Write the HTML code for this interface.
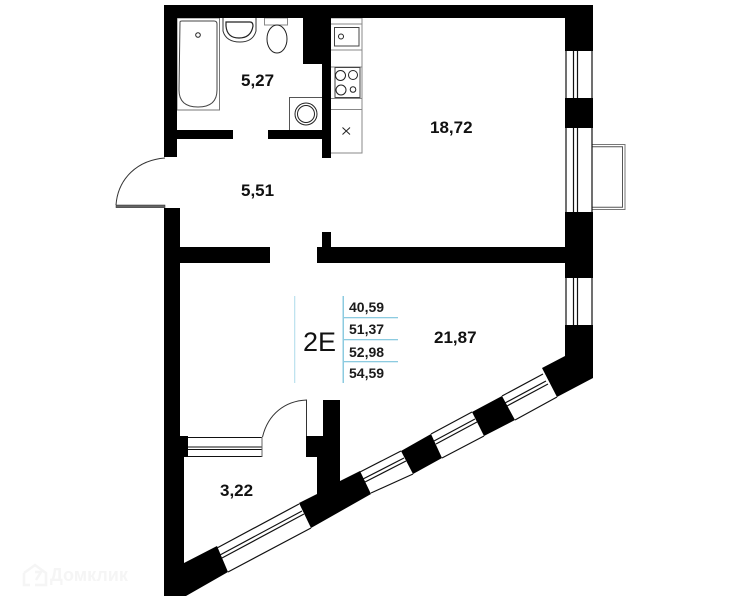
<!DOCTYPE html>
<html><head><meta charset="utf-8"><style>
html,body{margin:0;padding:0;background:#fff}
svg{display:block}
text{font-family:"Liberation Sans",sans-serif}
.a{font-size:17px;font-weight:bold;fill:#111}
.t{font-size:14px;font-weight:bold;fill:#1a1a1a}
</style></head><body>
<svg width="740" height="600" viewBox="0 0 740 600" xmlns="http://www.w3.org/2000/svg">
<rect width="740" height="600" fill="#fff"/>
<!-- watermark -->
<g fill="none" stroke="#f5f5f5" stroke-width="2.5"><path d="M24 573 L35 565 L46 573 V585 H35 M24 573 V585 H30 M35 572 H41 L36 580"/></g>
<text x="50" y="581" font-size="18" font-weight="bold" fill="#f5f5f5">Домклик</text>
<!-- fixtures -->
<g fill="none" stroke="#777" stroke-width="1">
<rect x="177" y="18" width="42.500" height="92" fill="#fff"/>
<path d="M180 22 Q180 21 182 21 H214 Q217 21 217 24 V90 Q217 107 198 107 Q179 107 179 90 Z" stroke="#444"/>
<circle cx="198" cy="35" r="2.300" stroke="#222"/>
<path d="M223 18 V31 Q226 42 240 42 Q253 42 256 31 V18" stroke="#333"/>
<path d="M226 22 H250 Q253 22 253 26 Q251 38 239 38 Q227 38 226 26 Z" stroke="#222" stroke-width="1.200"/>
<rect x="264.500" y="18" width="23" height="7" stroke="#888"/>
<ellipse cx="277" cy="39" rx="10" ry="14" stroke="#222" fill="#fff"/>
<path d="M330 18 H362 V153 H330 M330 24 H362 M330 50 H362 M330 67 H362 M330 98.500 H362 M330 109.500 H362" stroke="#888"/>
<rect x="334.500" y="27.500" width="24.500" height="18.500" stroke="#444"/>
<circle cx="341" cy="36.500" r="2.500" stroke="#222"/>
<rect x="335" y="67.500" width="25" height="30" stroke="#444"/>
<circle cx="340.500" cy="75.500" r="5" stroke="#222"/><circle cx="353" cy="75" r="4.500" stroke="#222"/>
<circle cx="341" cy="90" r="5" stroke="#222"/><circle cx="353" cy="89.500" r="2.800" stroke="#222"/>
<path d="M342.500 127.500 L350 134.500 M350 127.500 L342.500 134.500" stroke="#222"/>
<rect x="289.500" y="97.500" width="33" height="33" stroke="#555"/>
<circle cx="306" cy="114" r="11" stroke="#222"/><circle cx="306" cy="114" r="8.500" stroke="#222"/>
</g>
<!-- balcony -->
<path d="M592 144.500 H625 V209.500 H592" fill="none" stroke="#777" stroke-width="1"/>
<path d="M592 146.800 H622.500 V207.200 H592" fill="none" stroke="#555" stroke-width="1"/>
<!-- walls -->
<g fill="#000">
<path d="M164 5 H593 V51 H565 V18 H331 V158 H322 V64 H303 V18 H177 V157 H164 Z"/>
<rect x="177" y="130" width="56" height="9"/>
<rect x="268" y="130" width="55" height="9"/>
<rect x="565" y="98" width="28" height="30"/>
<rect x="565" y="212" width="28" height="66"/>
<path d="M164 208 H180 V247 H270 V263 H180 V436 H188 V457 H184 V563 L217 546 L228 572 L186 596 H164 Z"/>
<path d="M322 232 H331 V247 H565 V263 H317 V247 H322 Z"/>
<path d="M306 436 H323 V400 H340 V481 L360 471 L371 494 L311 528 L299 503 L317 494 V457 H306 Z"/>
<path d="M401 451 L431 434 L442 458 L413 474 Z"/>
<path d="M472 412 L502 396 L515 420 L484 436 Z"/>
<path d="M542 368 L565 356 V325 H593 V378 L557 397 Z"/>
</g>
<!-- right windows -->
<g stroke="#111" stroke-width="1.200" fill="none">
<path d="M566 51 V98 M592 51 V98 M573.500 51 V98 M577.500 51 V98"/>
<path d="M566 128 V212 M592 128 V212 M573.500 128 V212 M577.500 128 V212"/>
<path d="M566 278 V325 M592 278 V325 M573.500 278 V325 M577.500 278 V325"/>
<!-- diagonal windows -->
<path d="M217 548 L299 504 M228 572 L311 528 M220 555 L302 511 M222 558 L304 514"/>
<path d="M360 472 L401 451 M371 493 L413 474 M363 479 L404 458 M365 482 L406 461"/>
<path d="M431 434 L472 412 M442 458 L484 436 M434 441 L475 419 M436 444 L477 422"/>
<path d="M502 396 L543 374 M515 420 L557 397 M505 403 L546 381 M507 406 L548 384"/>
</g>
<!-- entrance door -->
<path d="M165 158 C138 160 118 178 116 205" fill="none" stroke="#333" stroke-width="1"/>
<rect x="116" y="205" width="49" height="2.600" fill="#666" stroke="#222" stroke-width=".5"/>
<!-- inner door -->
<path d="M262.500 437 C268 414 285 401 306.500 400 V436" fill="none" stroke="#333" stroke-width="1"/>
<path d="M188 437.500 H262 M188 447 H262 M188 449.500 H262 M188 456.500 H262" stroke="#111" stroke-width="1" fill="none"/>
<path d="M262 437 V457" stroke="#666" stroke-width="1"/>
<!-- table -->
<rect x="294" y="296" width="1.300" height="87" fill="#bfe3ef"/>
<rect x="342.500" y="296" width="1.500" height="87" fill="#8ccbe0"/>
<rect x="343" y="317" width="55" height="1.300" fill="#8ccbe0"/>
<rect x="343" y="339" width="55" height="1.300" fill="#8ccbe0"/>
<rect x="343" y="361" width="55" height="1.300" fill="#8ccbe0"/>
<text x="303" y="351" font-size="27" fill="#111">2E</text>
<text class="t" x="349" y="312">40,59</text>
<text class="t" x="349" y="334">51,37</text>
<text class="t" x="349" y="357">52,98</text>
<text class="t" x="349" y="378">54,59</text>
<!-- areas -->
<text class="a" x="241" y="86">5,27</text>
<text class="a" x="430" y="133">18,72</text>
<text class="a" x="241" y="196">5,51</text>
<text class="a" x="434" y="343">21,87</text>
<text class="a" x="220" y="496">3,22</text>
</svg>
</body></html>
